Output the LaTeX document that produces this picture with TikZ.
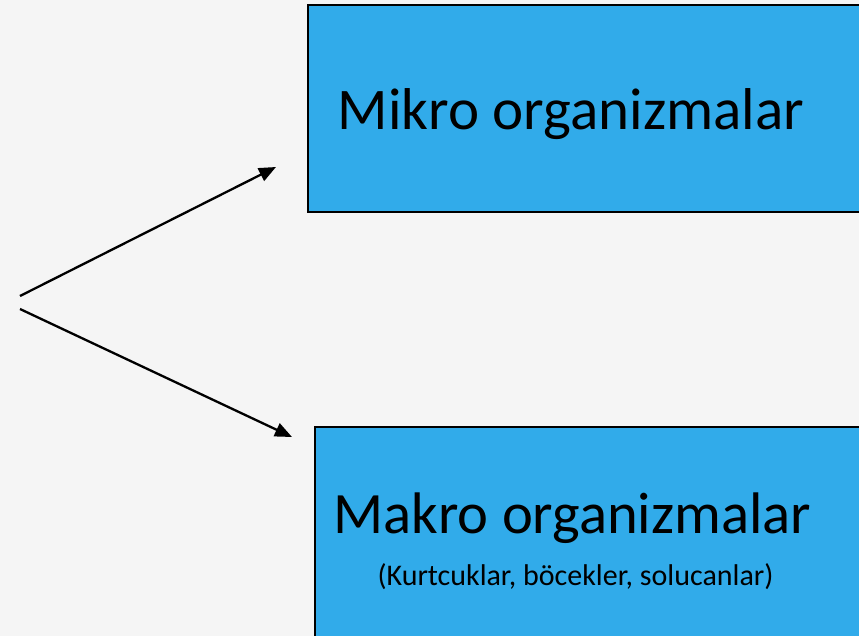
\documentclass[tikz,border=0pt]{standalone}
\usepackage{fontspec}
\setmainfont{Carlito}
\usetikzlibrary{arrows.meta}
\definecolor{bg}{RGB}{245,245,245}
\definecolor{boxblue}{RGB}{49,171,234}
\tikzset{
  box/.style={draw=black, line width=2.2pt, fill=boxblue, rectangle, inner sep=0pt},
  bigtext/.style={font=\fontsize{59}{64}\selectfont, inner sep=0pt, anchor=base},
  smalltext/.style={font=\fontsize{30}{32}\selectfont, inner sep=0pt},
  arr/.style={line width=2.3pt, -{Triangle[length=17pt,width=14pt]}}
}
\begin{document}
\begin{tikzpicture}[x=1pt,y=-1pt]
\useasboundingbox (0,0) rectangle (859,636);
\clip (0,0) rectangle (859,636);
\fill[bg] (0,0) rectangle (859,636);
\node[box, minimum width=570pt, minimum height=207pt] (mikro) at (593,108.5) {};
\node[box, minimum width=570pt, minimum height=210pt] (makro) at (600,532) {};
\node[bigtext] (mikrotext) at (571,130) {Mikro organizmalar};
\node[bigtext, font=\fontsize{58.6}{64}\selectfont] (makrotext) at (572.5,533) {Makro organizmalar};
\node[smalltext] (sub) at (575.5,576.5) {(Kurtcuklar, böcekler, solucanlar)};
\coordinate (s1) at (20,296);
\coordinate (t1) at (276,167);
\coordinate (s2) at (20,309);
\coordinate (t2) at (292,437);
\draw[arr] (s1) -- (t1);
\draw[arr] (s2) -- (t2);
\end{tikzpicture}
\end{document}
